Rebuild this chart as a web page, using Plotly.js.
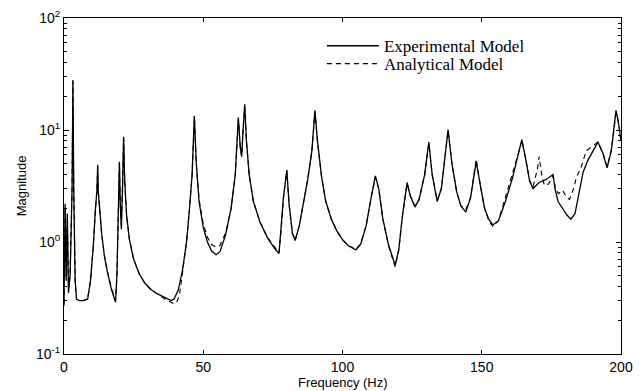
<!DOCTYPE html>
<html>
<head>
<meta charset="utf-8">
<script src="https://cdn.plot.ly/plotly-3.0.1.min.js"></script>
<style>html,body{margin:0;padding:0;background:#fff;}#chart{width:644px;height:391px;}</style>
</head>
<body>
<div id="chart"></div>
<script>
// Frequency (Hz)
const freqExp = [0.0,0.4,0.8,1.2,1.6,2.2,2.9,3.2,3.5,4.0,4.5,5.5,7,8.5,9.5,10.5,11.3,11.8,12.1,12.3,12.8,13.5,14.5,15.5,17,18.5,19.0,19.5,19.9,20.2,20.6,21.0,21.4,21.8,22.5,23.5,25,27,29,31,33,35,37,38.5,39.5,41,42.5,44,45,46,46.8,47.5,48.5,50,51.5,53,54.6,56,58,60,61.5,62.6,63.3,63.8,64.3,64.9,65.5,66.5,68,70.4,73,75.5,77.2,78,78.8,80,80.8,82,83,84.5,86,87.5,89,90.1,91,92.5,94,96,98,100,102,104.8,106.5,108.5,110.3,111.8,113,114.5,116.5,118.9,120.2,121.5,123.2,124.3,126,127.5,129.5,131,132.2,134,135.5,137.9,139.3,141,142.5,144.3,146,148,149.5,151,152.5,154,156,158.5,161,163,164.4,165.8,167.2,168.4,170.6,173,175.6,176.3,177.4,179.2,180.5,182,183.5,185,186.4,188,190,191.7,193.5,195,196.5,198.2,199,200];
// Experimental magnitude
const magExp = [0.27,2.2,0.45,1.8,0.35,0.5,3.0,28,3,0.45,0.31,0.30,0.30,0.31,0.45,0.9,2.0,2.8,4.9,2.8,2.0,1.2,0.75,0.55,0.38,0.29,0.5,1.5,5.2,2.2,1.3,3,8.7,3.5,1.7,1.05,0.7,0.52,0.43,0.38,0.35,0.33,0.31,0.30,0.31,0.37,0.55,1.0,1.9,4.0,13.4,5,2.3,1.35,1.0,0.83,0.77,0.82,1.15,2.0,4.0,12.9,7,5.8,10,17,8,4,2.3,1.5,1.1,0.88,0.79,1.3,2.5,4.4,2.2,1.2,1.03,1.4,2.2,3.6,6.5,15,8,3.8,2.3,1.6,1.25,1.05,0.93,0.85,0.95,1.4,2.5,3.9,3.0,1.6,0.95,0.62,0.85,1.7,3.4,2.6,2.05,2.4,4.0,7.8,4.0,2.3,3.0,10.1,5.0,2.8,2.1,1.85,2.5,5.2,3.2,2.0,1.6,1.42,1.55,2.3,3.7,6,8.2,5.5,3.5,3.0,3.4,3.6,4.0,3.0,2.3,1.97,1.75,1.6,1.8,2.8,4.2,5.3,6.6,7.8,6.2,4.6,6.5,15,12,8];
// Analytical model
const freqAna = [0.0,0.4,0.8,1.2,1.6,2.2,2.9,3.2,3.5,4.0,4.5,5.5,7,8.5,9.5,10.5,11.3,11.8,12.1,12.3,12.8,13.5,14.5,15.5,17,18.5,19.0,19.5,19.9,20.2,20.6,21.0,21.4,21.8,22.5,23.5,25,27,29,31,33,35,37,38.5,39.5,40.5,41.5,42.5,44,45,46,46.8,47.5,48.5,50,51.5,53,54.6,56,58,60,61.5,62.6,63.3,63.8,64.3,64.9,65.5,66.5,68,70.4,73,75.5,77.2,78,78.8,80,80.8,82,83,84.5,86,87.5,89,90.1,91,92.5,94,96,98,100,102,104.8,106.5,108.5,110.3,111.8,113,114.5,116.5,118.9,120.2,121.5,123.2,124.3,126,127.5,129.5,131,132.2,134,135.5,137.9,139.3,141,142.5,144.3,146,148,149.5,151,152.5,154,156,158.5,161,163,164.4,165.8,167.2,168.4,170,170.6,171.5,172.5,174,175.6,176.5,177.5,179,180.5,181.5,183,184,185.5,187.5,190,191.7,193.5,195,196.5,198.2,199,200];
const magAna = [0.28,2.0,0.5,1.6,0.38,0.55,3.2,27,3,0.45,0.31,0.30,0.30,0.31,0.45,0.9,2.0,2.8,4.6,2.8,2.0,1.2,0.76,0.56,0.39,0.30,0.5,1.5,5.0,2.2,1.4,3,8.5,3.5,1.7,1.05,0.7,0.52,0.43,0.38,0.35,0.32,0.30,0.29,0.28,0.29,0.34,0.52,1.0,1.9,4.0,13.0,5,2.4,1.45,1.1,0.95,0.9,0.93,1.2,2.0,4.0,12.5,7,5.8,10,16,8,4,2.3,1.5,1.1,0.9,0.8,1.3,2.5,4.3,2.2,1.2,1.05,1.4,2.2,3.6,6.5,14.5,8,3.8,2.3,1.6,1.25,1.05,0.93,0.86,0.96,1.4,2.5,3.8,3.0,1.6,0.93,0.6,0.85,1.7,3.3,2.6,2.1,2.4,4.0,7.6,4.0,2.35,3.0,9.8,5.0,2.8,2.1,1.95,2.5,5.5,3.2,2.0,1.55,1.38,1.55,2.5,3.9,6,8.0,5.5,3.5,3.1,4.5,5.8,4.0,3.2,3.3,3.9,3.0,2.7,2.9,2.5,2.4,3.0,3.8,4.5,6.5,7.2,7.8,6.2,4.7,6.5,14,12,8];

const tickValsY = [0.1, 1, 10, 100];
const tickTextY = ['10<sup>-1</sup>', '10<sup>0</sup>', '10<sup>1</sup>', '10<sup>2</sup>'];
const tickValsX = [0, 50, 100, 150, 200];
const xTitle = 'Frequency (Hz)';
const yTitle = 'Magnitude';

const traces = [
  {x: freqExp, y: magExp, type: 'scatter', mode: 'lines', name: 'Experimental Model',
   line: {color: '#000', width: 1.3}, legend: 'legend'},
  {x: freqAna, y: magAna, type: 'scatter', mode: 'lines', name: 'Analytical Model',
   line: {color: '#000', width: 1.1, dash: '5px,4px'}, legend: 'legend2'}
];

const sansFont = 'Liberation Sans, Arial, sans-serif';
const legendFont = {family: 'Liberation Serif, Times New Roman, serif', size: 17, color: '#000'};
const layout = {
  width: 644, height: 391,
  margin: {l: 64, r: 23, t: 18, b: 37},
  paper_bgcolor: '#fff', plot_bgcolor: '#fff',
  showlegend: true,
  legend: {x: 0.463, y: 0.916, xanchor: 'left', yanchor: 'middle', bgcolor: 'rgba(0,0,0,0)',
    font: legendFont, itemwidth: 52},
  legend2: {x: 0.463, y: 0.863, xanchor: 'left', yanchor: 'middle', bgcolor: 'rgba(0,0,0,0)',
    font: legendFont, itemwidth: 52},
  xaxis: {
    range: [0, 200], tickvals: tickValsX, ticks: 'inside', ticklen: 4, tickcolor: '#000',
    showline: true, linecolor: '#000', linewidth: 1, mirror: 'ticks', showgrid: false, zeroline: false,
    tickfont: {family: sansFont, size: 14, color: '#000'}
  },
  yaxis: {
    type: 'log', range: [-1, 2], tickvals: tickValsY, ticktext: tickTextY,
    ticks: 'inside', ticklen: 5, tickcolor: '#000',
    minor: {ticks: 'inside', ticklen: 3, tickcolor: '#000', dtick: 'D1', showgrid: false},
    showline: true, linecolor: '#000', linewidth: 1, mirror: 'ticks', showgrid: false, zeroline: false,
    tickfont: {family: sansFont, size: 14, color: '#000'},
    title: {text: yTitle, standoff: 6, font: {family: sansFont, size: 13, color: '#000'}}
  },
  annotations: [
    {text: xTitle, xref: 'paper', yref: 'paper', x: 0.5, y: -0.0595, xanchor: 'center', yanchor: 'top',
     showarrow: false, borderpad: 0, font: {family: sansFont, size: 13, color: '#000'}}
  ]
};

Plotly.newPlot('chart', traces, layout, {displayModeBar: false, staticPlot: true});
</script>
</body>
</html>
